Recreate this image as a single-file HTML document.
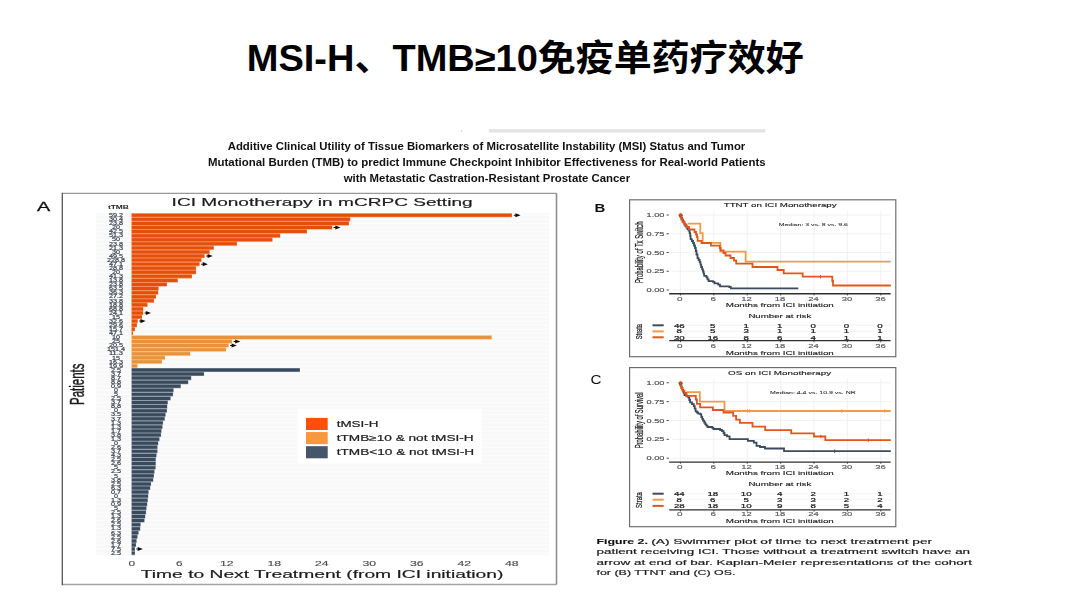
<!DOCTYPE html>
<html lang="zh"><head><meta charset="utf-8"><title>MSI-H、TMB≥10免疫单药疗效好</title>
<style>
html,body{margin:0;padding:0;background:#fff}
body{width:1080px;height:608px;position:relative;overflow:hidden;font-family:"Liberation Sans",sans-serif}
#art{position:absolute;left:0;top:0;width:1080px;height:608px}
#art text{font-family:"Liberation Sans",sans-serif}
#art text#title{font-family:"Liberation Sans","Noto Sans CJK SC",sans-serif}
h1{position:absolute;left:246px;top:36px;margin:0;font-size:36px;line-height:44px;font-weight:bold;color:transparent;white-space:nowrap;letter-spacing:0}
</style></head><body>
<h1>MSI-H、TMB≥10免疫单药疗效好</h1>
<svg id="art" width="1080" height="608" viewBox="0 0 1080 608">
<defs>
<filter id="ba" x="-2%" y="-2%" width="104%" height="104%"><feGaussianBlur stdDeviation="0.55"/></filter>
<filter id="bk" x="-2%" y="-2%" width="104%" height="104%"><feGaussianBlur stdDeviation="0.45"/></filter>
<filter id="idf" x="-2%" y="-10%" width="104%" height="120%"><feOffset dx="0" dy="0"/></filter>
</defs>
<text id="title" x="246.8" y="71.1" font-size="36" font-weight="bold" fill="#000" textLength="557" lengthAdjust="spacingAndGlyphs" style="font-family:'Liberation Sans','Noto Sans CJK SC',sans-serif">MSI-H、TMB≥10免疫单药疗效好</text>
<rect x="488.8" y="129.2" width="276.4" height="3.3" fill="#e3e3e3"/>
<rect x="461" y="130.2" width="1" height="1.6" fill="#cfcfcf"/>
<g id="subtitle" filter="url(#idf)" font-weight="bold" font-size="10.8" fill="#111" text-anchor="middle">
<text x="486.5" y="150.05" textLength="517.6" lengthAdjust="spacingAndGlyphs">Additive Clinical Utility of Tissue Biomarkers of Microsatellite Instability (MSI) Status and Tumor</text>
<text x="486.8" y="165.95" textLength="557.6" lengthAdjust="spacingAndGlyphs">Mutational Burden (TMB) to predict Immune Checkpoint Inhibitor Effectiveness for Real-world Patients</text>
<text x="486.9" y="181.75" textLength="286.4" lengthAdjust="spacingAndGlyphs">with Metastatic Castration-Resistant Prostate Cancer</text>
</g>
<g id="caption" filter="url(#idf)" font-size="7" fill="#1a1a1a" stroke="#1a1a1a" stroke-width="0.16">
<text x="596.5" y="544.1" textLength="51.4" lengthAdjust="spacingAndGlyphs" font-weight="bold" fill="#111" stroke-width="0.1">Figure 2.</text>
<text x="651.2" y="544.1" textLength="281" lengthAdjust="spacingAndGlyphs">(A) Swimmer plot of time to next treatment per</text>
<text x="596.5" y="554.35" textLength="373.6" lengthAdjust="spacingAndGlyphs">patient receiving ICI. Those without a treatment switch have an</text>
<text x="596.5" y="564.55" textLength="375.6" lengthAdjust="spacingAndGlyphs">arrow at end of bar. Kaplan-Meier representations of the cohort</text>
<text x="596.5" y="574.8" textLength="139" lengthAdjust="spacingAndGlyphs">for (B) TTNT and (C) OS.</text>
</g>
<g id="chartA" filter="url(#ba)">
<rect x="62.3" y="193.3" width="494.2" height="391.3" fill="#fff"/>
<path d="M62.3,193.3H556.5" stroke="#999" stroke-width="1.2"/><path d="M556.5,193.3V584.6" stroke="#8e8e8e" stroke-width="1.6"/><path d="M62.3,584.6H556.5" stroke="#a2a2a2" stroke-width="1.5"/><path d="M62.3,192.7V585.3" stroke="#555" stroke-width="1.3"/>
<rect x="96" y="213.3" width="453" height="341.9" fill="#f8f8f8"/>
<path d="M96,215.30H549M96,219.37H549M96,223.44H549M96,227.51H549M96,231.58H549M96,235.65H549M96,239.72H549M96,243.79H549M96,247.86H549M96,251.93H549M96,256.00H549M96,260.07H549M96,264.14H549M96,268.21H549M96,272.28H549M96,276.35H549M96,280.42H549M96,284.49H549M96,288.56H549M96,292.63H549M96,296.70H549M96,300.77H549M96,304.84H549M96,308.91H549M96,312.98H549M96,317.05H549M96,321.12H549M96,325.19H549M96,329.26H549M96,333.33H549M96,337.40H549M96,341.47H549M96,345.54H549M96,349.61H549M96,353.68H549M96,357.75H549M96,361.82H549M96,365.89H549M96,369.96H549M96,374.03H549M96,378.10H549M96,382.17H549M96,386.24H549M96,390.31H549M96,394.38H549M96,398.45H549M96,402.52H549M96,406.59H549M96,410.66H549M96,414.73H549M96,418.80H549M96,422.87H549M96,426.94H549M96,431.01H549M96,435.08H549M96,439.15H549M96,443.22H549M96,447.29H549M96,451.36H549M96,455.43H549M96,459.50H549M96,463.57H549M96,467.64H549M96,471.71H549M96,475.78H549M96,479.85H549M96,483.92H549M96,487.99H549M96,492.06H549M96,496.13H549M96,500.20H549M96,504.27H549M96,508.34H549M96,512.41H549M96,516.48H549M96,520.55H549M96,524.62H549M96,528.69H549M96,532.76H549M96,536.83H549M96,540.90H549M96,544.97H549M96,549.04H549M96,553.11H549" stroke="#fcfcfc" stroke-width="1.4" fill="none"/>
<path d="M131.5,213.27H512.0v4.07H131.5zM131.5,217.34H350.3v4.07H131.5zM131.5,221.41H349.0v4.07H131.5zM131.5,225.48H332.3v4.07H131.5zM131.5,229.55H307.0v4.07H131.5zM131.5,233.62H280.3v4.07H131.5zM131.5,237.69H272.5v4.07H131.5zM131.5,241.76H237.0v4.07H131.5zM131.5,245.83H213.8v4.07H131.5zM131.5,249.90H209.60000000000002v4.07H131.5zM131.5,253.97H204.60000000000002v4.07H131.5zM131.5,258.03H201.5v4.07H131.5zM131.5,262.10H199.60000000000002v4.07H131.5zM131.5,266.18H196.10000000000002v4.07H131.5zM131.5,270.25H196.10000000000002v4.07H131.5zM131.5,274.31H192.0v4.07H131.5zM131.5,278.38H177.8v4.07H131.5zM131.5,282.45H167.0v4.07H131.5zM131.5,286.52H158.60000000000002v4.07H131.5zM131.5,290.59H158.3v4.07H131.5zM131.5,294.67H156.10000000000002v4.07H131.5zM131.5,298.73H154.10000000000002v4.07H131.5zM131.5,302.81H147.5v4.07H131.5zM131.5,306.88H143.3v4.07H131.5zM131.5,310.94H143.3v4.07H131.5zM131.5,315.01H142.0v4.07H131.5zM131.5,319.08H137.8v4.07H131.5zM131.5,323.16H137.0v4.07H131.5zM131.5,327.22H135.0v4.07H131.5zM131.5,331.30H133.0v4.07H131.5z" fill="#F68E58"/>
<path d="M131.8,213.83H511.7v2.95H131.8zM131.8,217.90H350v2.95H131.8zM131.8,221.97H348.7v2.95H131.8zM131.8,226.04H332v2.95H131.8zM131.8,230.11H306.7v2.95H131.8zM131.8,234.18H280v2.95H131.8zM131.8,238.25H272.2v2.95H131.8zM131.8,242.32H236.7v2.95H131.8zM131.8,246.39H213.5v2.95H131.8zM131.8,250.46H209.3v2.95H131.8zM131.8,254.53H204.3v2.95H131.8zM131.8,258.59H201.2v2.95H131.8zM131.8,262.66H199.3v2.95H131.8zM131.8,266.74H195.8v2.95H131.8zM131.8,270.81H195.8v2.95H131.8zM131.8,274.88H191.7v2.95H131.8zM131.8,278.94H177.5v2.95H131.8zM131.8,283.01H166.7v2.95H131.8zM131.8,287.08H158.3v2.95H131.8zM131.8,291.15H158v2.95H131.8zM131.8,295.23H155.8v2.95H131.8zM131.8,299.29H153.8v2.95H131.8zM131.8,303.37H147.2v2.95H131.8zM131.8,307.44H143v2.95H131.8zM131.8,311.50H143v2.95H131.8zM131.8,315.57H141.7v2.95H131.8zM131.8,319.64H137.5v2.95H131.8zM131.8,323.72H136.7v2.95H131.8zM131.8,327.78H134.7v2.95H131.8zM131.8,331.86H132.7v2.95H131.8z" fill="#E5500F"/>
<path d="M131.5,335.37H491.7v4.07H131.5zM131.5,339.44H232.0v4.07H131.5zM131.5,343.50H228.60000000000002v4.07H131.5zM131.5,347.57H226.10000000000002v4.07H131.5zM131.5,351.64H190.3v4.07H131.5zM131.5,355.71H165.0v4.07H131.5zM131.5,359.79H162.0v4.07H131.5zM131.5,363.85H137.5v4.07H131.5z" fill="#F8BC78"/>
<path d="M131.8,335.93H491.4v2.95H131.8zM131.8,340.00H231.7v2.95H131.8zM131.8,344.06H228.3v2.95H131.8zM131.8,348.13H225.8v2.95H131.8zM131.8,352.20H190v2.95H131.8zM131.8,356.27H164.7v2.95H131.8zM131.8,360.35H161.7v2.95H131.8zM131.8,364.41H137.2v2.95H131.8z" fill="#E8923C"/>
<path d="M131.5,367.93H300.0v4.07H131.5zM131.5,372.00H204.10000000000002v4.07H131.5zM131.5,376.06H191.3v4.07H131.5zM131.5,380.13H188.3v4.07H131.5zM131.5,384.20H180.8v4.07H131.5zM131.5,388.28H173.60000000000002v4.07H131.5zM131.5,392.34H173.10000000000002v4.07H131.5zM131.5,396.42H170.60000000000002v4.07H131.5zM131.5,400.49H167.8v4.07H131.5zM131.5,404.56H167.3v4.07H131.5zM131.5,408.62H167.0v4.07H131.5zM131.5,412.69H165.60000000000002v4.07H131.5zM131.5,416.76H164.8v4.07H131.5zM131.5,420.83H163.10000000000002v4.07H131.5zM131.5,424.91H162.5v4.07H131.5zM131.5,428.97H161.5v4.07H131.5zM131.5,433.05H161.10000000000002v4.07H131.5zM131.5,437.12H159.5v4.07H131.5zM131.5,441.19H158.3v4.07H131.5zM131.5,445.25H157.5v4.07H131.5zM131.5,449.32H157.5v4.07H131.5zM131.5,453.40H156.5v4.07H131.5zM131.5,457.46H155.8v4.07H131.5zM131.5,461.54H155.8v4.07H131.5zM131.5,465.61H155.60000000000002v4.07H131.5zM131.5,469.68H154.5v4.07H131.5zM131.5,473.75H154.0v4.07H131.5zM131.5,477.81H153.3v4.07H131.5zM131.5,481.88H151.10000000000002v4.07H131.5zM131.5,485.95H150.3v4.07H131.5zM131.5,490.02H148.60000000000002v4.07H131.5zM131.5,494.10H148.3v4.07H131.5zM131.5,498.17H147.8v4.07H131.5zM131.5,502.24H147.3v4.07H131.5zM131.5,506.31H146.5v4.07H131.5zM131.5,510.38H146.10000000000002v4.07H131.5zM131.5,514.45H145.3v4.07H131.5zM131.5,518.51H144.5v4.07H131.5zM131.5,522.59H140.60000000000002v4.07H131.5zM131.5,526.66H140.3v4.07H131.5zM131.5,530.73H138.60000000000002v4.07H131.5zM131.5,534.80H137.5v4.07H131.5zM131.5,538.87H136.60000000000002v4.07H131.5zM131.5,542.94H136.10000000000002v4.07H131.5zM131.5,547.00H135.0v4.07H131.5zM131.5,551.08H135.0v4.07H131.5z" fill="#8E9CAB"/>
<path d="M131.8,368.49H299.7v2.95H131.8zM131.8,372.56H203.8v2.95H131.8zM131.8,376.62H191v2.95H131.8zM131.8,380.69H188v2.95H131.8zM131.8,384.76H180.5v2.95H131.8zM131.8,388.84H173.3v2.95H131.8zM131.8,392.90H172.8v2.95H131.8zM131.8,396.98H170.3v2.95H131.8zM131.8,401.05H167.5v2.95H131.8zM131.8,405.12H167v2.95H131.8zM131.8,409.19H166.7v2.95H131.8zM131.8,413.25H165.3v2.95H131.8zM131.8,417.32H164.5v2.95H131.8zM131.8,421.39H162.8v2.95H131.8zM131.8,425.47H162.2v2.95H131.8zM131.8,429.53H161.2v2.95H131.8zM131.8,433.61H160.8v2.95H131.8zM131.8,437.68H159.2v2.95H131.8zM131.8,441.75H158v2.95H131.8zM131.8,445.81H157.2v2.95H131.8zM131.8,449.88H157.2v2.95H131.8zM131.8,453.96H156.2v2.95H131.8zM131.8,458.02H155.5v2.95H131.8zM131.8,462.10H155.5v2.95H131.8zM131.8,466.17H155.3v2.95H131.8zM131.8,470.24H154.2v2.95H131.8zM131.8,474.31H153.7v2.95H131.8zM131.8,478.38H153v2.95H131.8zM131.8,482.44H150.8v2.95H131.8zM131.8,486.51H150v2.95H131.8zM131.8,490.58H148.3v2.95H131.8zM131.8,494.66H148v2.95H131.8zM131.8,498.73H147.5v2.95H131.8zM131.8,502.80H147v2.95H131.8zM131.8,506.87H146.2v2.95H131.8zM131.8,510.94H145.8v2.95H131.8zM131.8,515.00H145v2.95H131.8zM131.8,519.07H144.2v2.95H131.8zM131.8,523.15H140.3v2.95H131.8zM131.8,527.22H140v2.95H131.8zM131.8,531.28H138.3v2.95H131.8zM131.8,535.36H137.2v2.95H131.8zM131.8,539.43H136.3v2.95H131.8zM131.8,543.50H135.8v2.95H131.8zM131.8,547.56H134.7v2.95H131.8zM131.8,551.63H134.7v2.95H131.8z" fill="#3B495B"/>
<path d="M513.8,214.80H515.4V213.25L520.6,215.30L515.4,217.35V215.80H513.8zM333.6,227.01H335.3V225.46L340.5,227.51L335.3,229.56V228.01H333.6zM206.1,255.50H207.6V253.95L212.79999999999998,256.00L207.6,258.05V256.50H206.1zM201.1,263.64H202.7V262.09L207.89999999999998,264.14L202.7,266.19V264.64H201.1zM144.6,312.48H145.8V310.93L151.0,312.98L145.8,315.03V313.48H144.6zM139.2,320.62H140.4V319.07L145.6,321.12L140.4,323.17V321.62H139.2zM233.6,340.97H235.2V339.42L240.39999999999998,341.47L235.2,343.52V341.97H233.6zM230.2,345.04H231.6V343.49L236.79999999999998,345.54L231.6,347.59V346.04H230.2zM136.3,548.54H137.7V546.99L142.89999999999998,549.04L137.7,551.09V549.54H136.3z" fill="#111"/>
<g font-size="4.7" fill="#353c4c" stroke="#353c4c" stroke-width="0.15" text-anchor="middle"><text x="116" y="217.05" textLength="14.1" lengthAdjust="spacingAndGlyphs">59.2</text><text x="116" y="221.12" textLength="14.1" lengthAdjust="spacingAndGlyphs">30.4</text><text x="116" y="225.19" textLength="14.1" lengthAdjust="spacingAndGlyphs">23.8</text><text x="116" y="229.26" textLength="8.0" lengthAdjust="spacingAndGlyphs">20</text><text x="116" y="233.33" textLength="14.1" lengthAdjust="spacingAndGlyphs">42.5</text><text x="116" y="237.40" textLength="14.1" lengthAdjust="spacingAndGlyphs">51.3</text><text x="116" y="241.47" textLength="8.0" lengthAdjust="spacingAndGlyphs">50</text><text x="116" y="245.54" textLength="14.1" lengthAdjust="spacingAndGlyphs">23.8</text><text x="116" y="249.61" textLength="14.1" lengthAdjust="spacingAndGlyphs">21.3</text><text x="116" y="253.68" textLength="8.0" lengthAdjust="spacingAndGlyphs">30</text><text x="116" y="257.75" textLength="14.1" lengthAdjust="spacingAndGlyphs">49.5</text><text x="116" y="261.82" textLength="18.1" lengthAdjust="spacingAndGlyphs">228.8</text><text x="116" y="265.89" textLength="14.1" lengthAdjust="spacingAndGlyphs">47.1</text><text x="116" y="269.96" textLength="14.1" lengthAdjust="spacingAndGlyphs">28.8</text><text x="116" y="274.03" textLength="8.0" lengthAdjust="spacingAndGlyphs">20</text><text x="116" y="278.10" textLength="14.1" lengthAdjust="spacingAndGlyphs">41.3</text><text x="116" y="282.17" textLength="14.1" lengthAdjust="spacingAndGlyphs">13.8</text><text x="116" y="286.24" textLength="14.1" lengthAdjust="spacingAndGlyphs">23.8</text><text x="116" y="290.31" textLength="14.1" lengthAdjust="spacingAndGlyphs">63.5</text><text x="116" y="294.38" textLength="14.1" lengthAdjust="spacingAndGlyphs">36.3</text><text x="116" y="298.45" textLength="14.1" lengthAdjust="spacingAndGlyphs">27.2</text><text x="116" y="302.52" textLength="14.1" lengthAdjust="spacingAndGlyphs">33.8</text><text x="116" y="306.59" textLength="14.1" lengthAdjust="spacingAndGlyphs">18.8</text><text x="116" y="310.66" textLength="14.1" lengthAdjust="spacingAndGlyphs">68.8</text><text x="116" y="314.73" textLength="14.1" lengthAdjust="spacingAndGlyphs">24.1</text><text x="116" y="318.80" textLength="8.0" lengthAdjust="spacingAndGlyphs">15</text><text x="116" y="322.87" textLength="14.1" lengthAdjust="spacingAndGlyphs">32.6</text><text x="116" y="326.94" textLength="14.1" lengthAdjust="spacingAndGlyphs">29.6</text><text x="116" y="331.01" textLength="14.1" lengthAdjust="spacingAndGlyphs">15.7</text><text x="116" y="335.08" textLength="14.1" lengthAdjust="spacingAndGlyphs">47.1</text><text x="116" y="339.15" textLength="8.0" lengthAdjust="spacingAndGlyphs">10</text><text x="116" y="343.22" textLength="8.0" lengthAdjust="spacingAndGlyphs">25</text><text x="116" y="347.29" textLength="14.1" lengthAdjust="spacingAndGlyphs">20.5</text><text x="116" y="351.36" textLength="18.1" lengthAdjust="spacingAndGlyphs">151.4</text><text x="116" y="355.43" textLength="14.1" lengthAdjust="spacingAndGlyphs">11.3</text><text x="116" y="359.50" textLength="8.0" lengthAdjust="spacingAndGlyphs">15</text><text x="116" y="363.57" textLength="14.1" lengthAdjust="spacingAndGlyphs">16.3</text><text x="116" y="367.64" textLength="14.1" lengthAdjust="spacingAndGlyphs">19.9</text><text x="116" y="371.71" textLength="10.1" lengthAdjust="spacingAndGlyphs">2.5</text><text x="116" y="375.78" textLength="10.1" lengthAdjust="spacingAndGlyphs">3.7</text><text x="116" y="379.85" textLength="10.1" lengthAdjust="spacingAndGlyphs">8.7</text><text x="116" y="383.92" textLength="10.1" lengthAdjust="spacingAndGlyphs">8.8</text><text x="116" y="387.99" textLength="10.1" lengthAdjust="spacingAndGlyphs">0.9</text><text x="116" y="392.06" textLength="4.0" lengthAdjust="spacingAndGlyphs">0</text><text x="116" y="396.13" textLength="4.0" lengthAdjust="spacingAndGlyphs">5</text><text x="116" y="400.20" textLength="10.1" lengthAdjust="spacingAndGlyphs">2.5</text><text x="116" y="404.27" textLength="10.1" lengthAdjust="spacingAndGlyphs">3.7</text><text x="116" y="408.34" textLength="10.1" lengthAdjust="spacingAndGlyphs">8.8</text><text x="116" y="412.41" textLength="4.0" lengthAdjust="spacingAndGlyphs">0</text><text x="116" y="416.48" textLength="10.1" lengthAdjust="spacingAndGlyphs">3.5</text><text x="116" y="420.55" textLength="10.1" lengthAdjust="spacingAndGlyphs">3.7</text><text x="116" y="424.62" textLength="10.1" lengthAdjust="spacingAndGlyphs">1.3</text><text x="116" y="428.69" textLength="10.1" lengthAdjust="spacingAndGlyphs">1.3</text><text x="116" y="432.76" textLength="10.1" lengthAdjust="spacingAndGlyphs">1.7</text><text x="116" y="436.83" textLength="10.1" lengthAdjust="spacingAndGlyphs">3.8</text><text x="116" y="440.90" textLength="10.1" lengthAdjust="spacingAndGlyphs">1.3</text><text x="116" y="444.97" textLength="4.0" lengthAdjust="spacingAndGlyphs">0</text><text x="116" y="449.04" textLength="10.1" lengthAdjust="spacingAndGlyphs">2.6</text><text x="116" y="453.11" textLength="10.1" lengthAdjust="spacingAndGlyphs">3.7</text><text x="116" y="457.18" textLength="10.1" lengthAdjust="spacingAndGlyphs">4.3</text><text x="116" y="461.25" textLength="10.1" lengthAdjust="spacingAndGlyphs">2.5</text><text x="116" y="465.32" textLength="10.1" lengthAdjust="spacingAndGlyphs">2.6</text><text x="116" y="469.39" textLength="4.0" lengthAdjust="spacingAndGlyphs">5</text><text x="116" y="473.46" textLength="10.1" lengthAdjust="spacingAndGlyphs">2.5</text><text x="116" y="477.53" textLength="4.0" lengthAdjust="spacingAndGlyphs">5</text><text x="116" y="481.60" textLength="10.1" lengthAdjust="spacingAndGlyphs">3.8</text><text x="116" y="485.67" textLength="10.1" lengthAdjust="spacingAndGlyphs">2.5</text><text x="116" y="489.74" textLength="10.1" lengthAdjust="spacingAndGlyphs">6.3</text><text x="116" y="493.81" textLength="10.1" lengthAdjust="spacingAndGlyphs">0.7</text><text x="116" y="497.88" textLength="4.0" lengthAdjust="spacingAndGlyphs">0</text><text x="116" y="501.95" textLength="10.1" lengthAdjust="spacingAndGlyphs">1.3</text><text x="116" y="506.02" textLength="10.1" lengthAdjust="spacingAndGlyphs">0.9</text><text x="116" y="510.09" textLength="4.0" lengthAdjust="spacingAndGlyphs">5</text><text x="116" y="514.16" textLength="10.1" lengthAdjust="spacingAndGlyphs">2.5</text><text x="116" y="518.23" textLength="10.1" lengthAdjust="spacingAndGlyphs">1.3</text><text x="116" y="522.30" textLength="10.1" lengthAdjust="spacingAndGlyphs">2.6</text><text x="116" y="526.37" textLength="10.1" lengthAdjust="spacingAndGlyphs">2.5</text><text x="116" y="530.44" textLength="10.1" lengthAdjust="spacingAndGlyphs">1.3</text><text x="116" y="534.51" textLength="10.1" lengthAdjust="spacingAndGlyphs">6.3</text><text x="116" y="538.58" textLength="10.1" lengthAdjust="spacingAndGlyphs">2.5</text><text x="116" y="542.65" textLength="10.1" lengthAdjust="spacingAndGlyphs">2.6</text><text x="116" y="546.72" textLength="10.1" lengthAdjust="spacingAndGlyphs">1.7</text><text x="116" y="550.79" textLength="10.1" lengthAdjust="spacingAndGlyphs">7.5</text><text x="116" y="554.86" textLength="10.1" lengthAdjust="spacingAndGlyphs">2.5</text></g>
<text x="107.9" y="209" font-size="5.8" fill="#222" textLength="21.1" lengthAdjust="spacingAndGlyphs" font-weight="bold">tTMB</text>
<text x="171.6" y="206.3" font-size="11.6" fill="#1c1c1c" stroke="#1c1c1c" stroke-width="0.18" textLength="301" lengthAdjust="spacingAndGlyphs">ICI Monotherapy in mCRPC Setting</text>
<text x="36.9" y="211.2" font-size="12.6" fill="#111" stroke="#111" stroke-width="0.3" textLength="13.2" lengthAdjust="spacingAndGlyphs">A</text>
<text x="131.8" y="565.9" font-size="8" fill="#505050" stroke="#505050" stroke-width="0.15" textLength="6.6" lengthAdjust="spacingAndGlyphs" text-anchor="middle">0</text>
<text x="179.3" y="565.9" font-size="8" fill="#505050" stroke="#505050" stroke-width="0.15" textLength="6.6" lengthAdjust="spacingAndGlyphs" text-anchor="middle">6</text>
<text x="226.8" y="565.9" font-size="8" fill="#505050" stroke="#505050" stroke-width="0.15" textLength="13.6" lengthAdjust="spacingAndGlyphs" text-anchor="middle">12</text>
<text x="274.3" y="565.9" font-size="8" fill="#505050" stroke="#505050" stroke-width="0.15" textLength="13.6" lengthAdjust="spacingAndGlyphs" text-anchor="middle">18</text>
<text x="321.8" y="565.9" font-size="8" fill="#505050" stroke="#505050" stroke-width="0.15" textLength="13.6" lengthAdjust="spacingAndGlyphs" text-anchor="middle">24</text>
<text x="369.3" y="565.9" font-size="8" fill="#505050" stroke="#505050" stroke-width="0.15" textLength="13.6" lengthAdjust="spacingAndGlyphs" text-anchor="middle">30</text>
<text x="416.8" y="565.9" font-size="8" fill="#505050" stroke="#505050" stroke-width="0.15" textLength="13.6" lengthAdjust="spacingAndGlyphs" text-anchor="middle">36</text>
<text x="464.3" y="565.9" font-size="8" fill="#505050" stroke="#505050" stroke-width="0.15" textLength="13.6" lengthAdjust="spacingAndGlyphs" text-anchor="middle">42</text>
<text x="511.8" y="565.9" font-size="8" fill="#505050" stroke="#505050" stroke-width="0.15" textLength="13.6" lengthAdjust="spacingAndGlyphs" text-anchor="middle">48</text>
<text x="140.8" y="577.8" font-size="11.6" fill="#1c1c1c" stroke="#1c1c1c" stroke-width="0.18" textLength="362.5" lengthAdjust="spacingAndGlyphs">Time to Next Treatment (from ICI initiation)</text>
<text transform="translate(84.2,405) scale(1.75,1) rotate(-90)" font-size="11.5" fill="#1c1c1c" stroke="#1c1c1c" stroke-width="0.25">Patients</text>
<rect x="297.8" y="408.8" width="183.7" height="54.4" fill="#fff"/>
<rect x="306" y="417.90" width="21.7" height="12.1" fill="#FF4F07"/>
<rect x="306" y="432.05" width="21.7" height="12.1" fill="#F9973E"/>
<rect x="306" y="446.20" width="21.7" height="12.1" fill="#45546A"/>
<text x="336.7" y="427.2" font-size="8.7" fill="#222" stroke="#222" stroke-width="0.2" textLength="41.8" lengthAdjust="spacingAndGlyphs">tMSI-H</text>
<text x="336.7" y="441.2" font-size="8.7" fill="#222" stroke="#222" stroke-width="0.2" textLength="137" lengthAdjust="spacingAndGlyphs">tTMB≥10 &amp; not tMSI-H</text>
<text x="336.7" y="455.1" font-size="8.7" fill="#222" stroke="#222" stroke-width="0.2" textLength="137.5" lengthAdjust="spacingAndGlyphs">tTMB&lt;10 &amp; not tMSI-H</text>
</g>
<g id="chartB" filter="url(#bk)">
<rect x="629.6" y="199.8" width="266.2" height="156.9" fill="#fff" stroke="#6a6a6a" stroke-width="1.15"/>
<path d="M680.4,211.0V293.3M713.8,211.0V293.3M747.2,211.0V293.3M780.6,211.0V293.3M814.0,211.0V293.3M847.4,211.0V293.3M880.8,211.0V293.3M672,215.00H890.8M672,233.75H890.8M672,252.50H890.8M672,271.25H890.8M672,290.00H890.8" stroke="#efefef" stroke-width="0.9" fill="none"/>
<path d="M672,325.3H890.8M672,331.4H890.8M672,337.3H890.8" stroke="#efefef" stroke-width="0.7" fill="none"/>
<text x="664.4" y="217.15" font-size="6" fill="#4d4d4d" stroke="#4d4d4d" stroke-width="0.15" textLength="17.8" lengthAdjust="spacingAndGlyphs" text-anchor="end">1.00</text>
<path d="M666.6,215.00h2.2" stroke="#333" stroke-width="0.9"/>
<text x="664.4" y="235.90" font-size="6" fill="#4d4d4d" stroke="#4d4d4d" stroke-width="0.15" textLength="17.8" lengthAdjust="spacingAndGlyphs" text-anchor="end">0.75</text>
<path d="M666.6,233.75h2.2" stroke="#333" stroke-width="0.9"/>
<text x="664.4" y="254.65" font-size="6" fill="#4d4d4d" stroke="#4d4d4d" stroke-width="0.15" textLength="17.8" lengthAdjust="spacingAndGlyphs" text-anchor="end">0.50</text>
<path d="M666.6,252.50h2.2" stroke="#333" stroke-width="0.9"/>
<text x="664.4" y="273.40" font-size="6" fill="#4d4d4d" stroke="#4d4d4d" stroke-width="0.15" textLength="17.8" lengthAdjust="spacingAndGlyphs" text-anchor="end">0.25</text>
<path d="M666.6,271.25h2.2" stroke="#333" stroke-width="0.9"/>
<text x="664.4" y="292.15" font-size="6" fill="#4d4d4d" stroke="#4d4d4d" stroke-width="0.15" textLength="17.8" lengthAdjust="spacingAndGlyphs" text-anchor="end">0.00</text>
<path d="M666.6,290.00h2.2" stroke="#333" stroke-width="0.9"/>
<path d="M680.5,214.6V216.2H681.2V217.8H682V219.4H682.8V221H683.6V222.6H684.4V224.3H685.3V225.9H686.5V227.5H687.6V229.1H688.6V230.7H689.6V233.2H690.2V236H690.6V239.2H691.8V241H693V243H694V245.5H695V248H695.8V251H696.5V254.5H697.5V258.1H698.6V260H699.7V262.2H700.5V264.6H701.2V267H702.1V269.3H703V271.5H703.6V273.7H704.2V275.9H706.4V277.4H707.5V279.3H708.6V281.1H713V281.9H714.5V283.3H718.2V284.7H720V286.3H729.3V287H730.8V288.4H798.3" stroke="#3D4B5E" stroke-width="1.8" fill="none" stroke-linejoin="miter"/>
<path d="M688,223.7H700.3V233.2H702.7V242.9H720.4V251.7H745.6V261.7H890.8" stroke="#F09A4B" stroke-width="1.8" fill="none" stroke-linejoin="miter"/>
<path d="M680.5,214.6V217H681.3V219.5H682.5V222H684.5V224.5H686.5V227H689V229.5H694.5V232H696V234.5H697V237H697.6V240.8H701.5V243H711V245.6H719.8V248H720.6V250.3H723.5V253H725.5V255.5H730.5V258H734V260.5H736.2V263.7H752.5V267H777.5V270H783.7V273.3H802.7V276.7H832.3V281H833V285.5H890.8" stroke="#E2561B" stroke-width="1.8" fill="none" stroke-linejoin="miter"/>
<path d="M820.5,275.0v3.4" stroke="#E2561B" stroke-width="1"/>
<path d="M669.2,293.8H890.6" stroke="#2e2e2e" stroke-width="1.4"/>
<text x="679.7" y="300.7" font-size="5.8" fill="#5c5c5c" stroke="#5c5c5c" stroke-width="0.15" textLength="5.5" lengthAdjust="spacingAndGlyphs" text-anchor="middle">0</text>
<path d="M680.4,293.8v1.6" stroke="#2e2e2e" stroke-width="0.9"/>
<text x="713.2" y="300.7" font-size="5.8" fill="#5c5c5c" stroke="#5c5c5c" stroke-width="0.15" textLength="5.5" lengthAdjust="spacingAndGlyphs" text-anchor="middle">6</text>
<path d="M713.8,293.8v1.6" stroke="#2e2e2e" stroke-width="0.9"/>
<text x="746.6" y="300.7" font-size="5.8" fill="#5c5c5c" stroke="#5c5c5c" stroke-width="0.15" textLength="10.5" lengthAdjust="spacingAndGlyphs" text-anchor="middle">12</text>
<path d="M747.2,293.8v1.6" stroke="#2e2e2e" stroke-width="0.9"/>
<text x="780.1" y="300.7" font-size="5.8" fill="#5c5c5c" stroke="#5c5c5c" stroke-width="0.15" textLength="10.5" lengthAdjust="spacingAndGlyphs" text-anchor="middle">18</text>
<path d="M780.6,293.8v1.6" stroke="#2e2e2e" stroke-width="0.9"/>
<text x="813.5" y="300.7" font-size="5.8" fill="#5c5c5c" stroke="#5c5c5c" stroke-width="0.15" textLength="10.5" lengthAdjust="spacingAndGlyphs" text-anchor="middle">24</text>
<path d="M814.0,293.8v1.6" stroke="#2e2e2e" stroke-width="0.9"/>
<text x="847.0" y="300.7" font-size="5.8" fill="#5c5c5c" stroke="#5c5c5c" stroke-width="0.15" textLength="10.5" lengthAdjust="spacingAndGlyphs" text-anchor="middle">30</text>
<path d="M847.4,293.8v1.6" stroke="#2e2e2e" stroke-width="0.9"/>
<text x="880.4" y="300.7" font-size="5.8" fill="#5c5c5c" stroke="#5c5c5c" stroke-width="0.15" textLength="10.5" lengthAdjust="spacingAndGlyphs" text-anchor="middle">36</text>
<path d="M880.8,293.8v1.6" stroke="#2e2e2e" stroke-width="0.9"/>
<text x="725.8" y="307.0" font-size="5.8" fill="#1a1a1a" stroke="#1a1a1a" stroke-width="0.12" textLength="108" lengthAdjust="spacingAndGlyphs">Months from ICI initiation</text>
<text x="748.4" y="317.8" font-size="5.6" fill="#1a1a1a" stroke="#1a1a1a" stroke-width="0.12" textLength="62.9" lengthAdjust="spacingAndGlyphs">Number at risk</text>
<path d="M652.5,325.3H663.7" stroke="#3D4B5E" stroke-width="2"/>
<text x="679.3" y="327.5" font-size="5.9" fill="#1a1a1a" stroke="#1a1a1a" stroke-width="0.2" textLength="10.8" lengthAdjust="spacingAndGlyphs" text-anchor="middle">46</text>
<text x="712.8" y="327.5" font-size="5.9" fill="#1a1a1a" stroke="#1a1a1a" stroke-width="0.2" textLength="5.4" lengthAdjust="spacingAndGlyphs" text-anchor="middle">5</text>
<text x="746.2" y="327.5" font-size="5.9" fill="#1a1a1a" stroke="#1a1a1a" stroke-width="0.2" textLength="5.4" lengthAdjust="spacingAndGlyphs" text-anchor="middle">1</text>
<text x="779.6" y="327.5" font-size="5.9" fill="#1a1a1a" stroke="#1a1a1a" stroke-width="0.2" textLength="5.4" lengthAdjust="spacingAndGlyphs" text-anchor="middle">1</text>
<text x="813.1" y="327.5" font-size="5.9" fill="#1a1a1a" stroke="#1a1a1a" stroke-width="0.2" textLength="5.4" lengthAdjust="spacingAndGlyphs" text-anchor="middle">0</text>
<text x="846.5" y="327.5" font-size="5.9" fill="#1a1a1a" stroke="#1a1a1a" stroke-width="0.2" textLength="5.4" lengthAdjust="spacingAndGlyphs" text-anchor="middle">0</text>
<text x="880.0" y="327.5" font-size="5.9" fill="#1a1a1a" stroke="#1a1a1a" stroke-width="0.2" textLength="5.4" lengthAdjust="spacingAndGlyphs" text-anchor="middle">0</text>
<path d="M652.5,331.4H663.7" stroke="#F09A4B" stroke-width="2"/>
<text x="679.3" y="333.4" font-size="5.9" fill="#1a1a1a" stroke="#1a1a1a" stroke-width="0.2" textLength="5.4" lengthAdjust="spacingAndGlyphs" text-anchor="middle">8</text>
<text x="712.8" y="333.4" font-size="5.9" fill="#1a1a1a" stroke="#1a1a1a" stroke-width="0.2" textLength="5.4" lengthAdjust="spacingAndGlyphs" text-anchor="middle">5</text>
<text x="746.2" y="333.4" font-size="5.9" fill="#1a1a1a" stroke="#1a1a1a" stroke-width="0.2" textLength="5.4" lengthAdjust="spacingAndGlyphs" text-anchor="middle">3</text>
<text x="779.6" y="333.4" font-size="5.9" fill="#1a1a1a" stroke="#1a1a1a" stroke-width="0.2" textLength="5.4" lengthAdjust="spacingAndGlyphs" text-anchor="middle">1</text>
<text x="813.1" y="333.4" font-size="5.9" fill="#1a1a1a" stroke="#1a1a1a" stroke-width="0.2" textLength="5.4" lengthAdjust="spacingAndGlyphs" text-anchor="middle">1</text>
<text x="846.5" y="333.4" font-size="5.9" fill="#1a1a1a" stroke="#1a1a1a" stroke-width="0.2" textLength="5.4" lengthAdjust="spacingAndGlyphs" text-anchor="middle">1</text>
<text x="880.0" y="333.4" font-size="5.9" fill="#1a1a1a" stroke="#1a1a1a" stroke-width="0.2" textLength="5.4" lengthAdjust="spacingAndGlyphs" text-anchor="middle">1</text>
<path d="M652.5,337.3H663.7" stroke="#E2561B" stroke-width="2"/>
<text x="679.3" y="339.5" font-size="5.9" fill="#1a1a1a" stroke="#1a1a1a" stroke-width="0.2" textLength="10.8" lengthAdjust="spacingAndGlyphs" text-anchor="middle">30</text>
<text x="712.8" y="339.5" font-size="5.9" fill="#1a1a1a" stroke="#1a1a1a" stroke-width="0.2" textLength="10.8" lengthAdjust="spacingAndGlyphs" text-anchor="middle">16</text>
<text x="746.2" y="339.5" font-size="5.9" fill="#1a1a1a" stroke="#1a1a1a" stroke-width="0.2" textLength="5.4" lengthAdjust="spacingAndGlyphs" text-anchor="middle">8</text>
<text x="779.6" y="339.5" font-size="5.9" fill="#1a1a1a" stroke="#1a1a1a" stroke-width="0.2" textLength="5.4" lengthAdjust="spacingAndGlyphs" text-anchor="middle">6</text>
<text x="813.1" y="339.5" font-size="5.9" fill="#1a1a1a" stroke="#1a1a1a" stroke-width="0.2" textLength="5.4" lengthAdjust="spacingAndGlyphs" text-anchor="middle">4</text>
<text x="846.5" y="339.5" font-size="5.9" fill="#1a1a1a" stroke="#1a1a1a" stroke-width="0.2" textLength="5.4" lengthAdjust="spacingAndGlyphs" text-anchor="middle">1</text>
<text x="880.0" y="339.5" font-size="5.9" fill="#1a1a1a" stroke="#1a1a1a" stroke-width="0.2" textLength="5.4" lengthAdjust="spacingAndGlyphs" text-anchor="middle">1</text>
<path d="M669.2,340.6H890.6" stroke="#2e2e2e" stroke-width="1.4"/>
<text x="679.7" y="347.9" font-size="5.8" fill="#5c5c5c" stroke="#5c5c5c" stroke-width="0.15" textLength="5.5" lengthAdjust="spacingAndGlyphs" text-anchor="middle">0</text>
<path d="M680.4,340.6v1.6" stroke="#2e2e2e" stroke-width="0.9"/>
<text x="713.2" y="347.9" font-size="5.8" fill="#5c5c5c" stroke="#5c5c5c" stroke-width="0.15" textLength="5.5" lengthAdjust="spacingAndGlyphs" text-anchor="middle">6</text>
<path d="M713.8,340.6v1.6" stroke="#2e2e2e" stroke-width="0.9"/>
<text x="746.6" y="347.9" font-size="5.8" fill="#5c5c5c" stroke="#5c5c5c" stroke-width="0.15" textLength="10.5" lengthAdjust="spacingAndGlyphs" text-anchor="middle">12</text>
<path d="M747.2,340.6v1.6" stroke="#2e2e2e" stroke-width="0.9"/>
<text x="780.1" y="347.9" font-size="5.8" fill="#5c5c5c" stroke="#5c5c5c" stroke-width="0.15" textLength="10.5" lengthAdjust="spacingAndGlyphs" text-anchor="middle">18</text>
<path d="M780.6,340.6v1.6" stroke="#2e2e2e" stroke-width="0.9"/>
<text x="813.5" y="347.9" font-size="5.8" fill="#5c5c5c" stroke="#5c5c5c" stroke-width="0.15" textLength="10.5" lengthAdjust="spacingAndGlyphs" text-anchor="middle">24</text>
<path d="M814.0,340.6v1.6" stroke="#2e2e2e" stroke-width="0.9"/>
<text x="847.0" y="347.9" font-size="5.8" fill="#5c5c5c" stroke="#5c5c5c" stroke-width="0.15" textLength="10.5" lengthAdjust="spacingAndGlyphs" text-anchor="middle">30</text>
<path d="M847.4,340.6v1.6" stroke="#2e2e2e" stroke-width="0.9"/>
<text x="880.4" y="347.9" font-size="5.8" fill="#5c5c5c" stroke="#5c5c5c" stroke-width="0.15" textLength="10.5" lengthAdjust="spacingAndGlyphs" text-anchor="middle">36</text>
<path d="M880.8,340.6v1.6" stroke="#2e2e2e" stroke-width="0.9"/>
<text x="725.8" y="354.6" font-size="5.8" fill="#1a1a1a" stroke="#1a1a1a" stroke-width="0.12" textLength="108" lengthAdjust="spacingAndGlyphs">Months from ICI initiation</text>
<text x="723.7" y="206.7" font-size="5.7" fill="#1a1a1a" stroke="#1a1a1a" stroke-width="0.12" textLength="113.0" lengthAdjust="spacingAndGlyphs">TTNT on ICI Monotherapy</text>
<text x="778.7" y="225.5" font-size="4.4" fill="#2a2a2a" stroke="#2a2a2a" stroke-width="0.06" textLength="69.3" lengthAdjust="spacingAndGlyphs">Median: 3 vs. 8 vs. 9.6</text>
<text transform="translate(642.5,282.9) rotate(-90)" font-size="10" textLength="61.5" lengthAdjust="spacingAndGlyphs" fill="#1a1a1a" stroke="#1a1a1a" stroke-width="0.25">Probability of Tx Switch</text>
<text transform="translate(641.5,339.2) rotate(-90)" font-size="9.8" textLength="15.2" lengthAdjust="spacingAndGlyphs" fill="#1a1a1a" stroke="#1a1a1a" stroke-width="0.25">Strata</text>
<text x="594.5" y="212.1" font-size="11.4" font-weight="bold" fill="#111" textLength="10.8" lengthAdjust="spacingAndGlyphs">B</text><circle cx="680.7" cy="215.3" r="2.1" fill="#b4531f"/>
</g>
<g id="chartC" filter="url(#bk)">
<rect x="629.6" y="367.6" width="266.2" height="159.1" fill="#fff" stroke="#6a6a6a" stroke-width="1.15"/>
<path d="M680.4,378.8V461.6M713.8,378.8V461.6M747.2,378.8V461.6M780.6,378.8V461.6M814.0,378.8V461.6M847.4,378.8V461.6M880.8,378.8V461.6M672,382.75H890.8M672,401.61H890.8M672,420.48H890.8M672,439.34H890.8M672,458.20H890.8" stroke="#efefef" stroke-width="0.9" fill="none"/>
<path d="M672,493.7H890.8M672,499.7H890.8M672,505.9H890.8" stroke="#efefef" stroke-width="0.7" fill="none"/>
<text x="664.4" y="384.90" font-size="6" fill="#4d4d4d" stroke="#4d4d4d" stroke-width="0.15" textLength="17.8" lengthAdjust="spacingAndGlyphs" text-anchor="end">1.00</text>
<path d="M666.6,382.75h2.2" stroke="#333" stroke-width="0.9"/>
<text x="664.4" y="403.76" font-size="6" fill="#4d4d4d" stroke="#4d4d4d" stroke-width="0.15" textLength="17.8" lengthAdjust="spacingAndGlyphs" text-anchor="end">0.75</text>
<path d="M666.6,401.61h2.2" stroke="#333" stroke-width="0.9"/>
<text x="664.4" y="422.62" font-size="6" fill="#4d4d4d" stroke="#4d4d4d" stroke-width="0.15" textLength="17.8" lengthAdjust="spacingAndGlyphs" text-anchor="end">0.50</text>
<path d="M666.6,420.48h2.2" stroke="#333" stroke-width="0.9"/>
<text x="664.4" y="441.49" font-size="6" fill="#4d4d4d" stroke="#4d4d4d" stroke-width="0.15" textLength="17.8" lengthAdjust="spacingAndGlyphs" text-anchor="end">0.25</text>
<path d="M666.6,439.34h2.2" stroke="#333" stroke-width="0.9"/>
<text x="664.4" y="460.35" font-size="6" fill="#4d4d4d" stroke="#4d4d4d" stroke-width="0.15" textLength="17.8" lengthAdjust="spacingAndGlyphs" text-anchor="end">0.00</text>
<path d="M666.6,458.20h2.2" stroke="#333" stroke-width="0.9"/>
<path d="M680.4,382.8V384.5H681V386.3H681.7V388H682.4V389.8H683.1V391.5H683.8V393.2H684.5V395H686.5V396.3H688.4V397.6H689.3V400H690.1V402.4H692V404.2H693.8V406.1H694.7V408.7H695.6V411.3H697V412.5H698.2V413.6H700.4V414.4H701.3V417H702.2V418.8H703V420.7H704.2V422.5H705.3V424.4H706.4V425.7H707.5V427H712.3V427.8H713.4V429H720.1V430H722V431.1H723.6V433H724.5V435.1H727V436.3H729.6V439.2H747.9V440.9H753.8V442.7H756.5V445.8H760V447H765V448.5H784V451.2H890.8" stroke="#3D4B5E" stroke-width="1.8" fill="none" stroke-linejoin="miter"/>
<path d="M686.5,392.2H699.9V401.6H724.5V411H890.8" stroke="#F09A4B" stroke-width="1.8" fill="none" stroke-linejoin="miter"/>
<path d="M680.4,382.8V385.5H681.3V388H682.5V390.6H684.5V393H686.5V395.9H695.8V399.5H696.9V403.9H700.1V407.4H712.9V410H723.5V412.5H733.2V415.8H736.1V419.6H739.9V422.9H752.5V426.7H765.2V430.1H791.2V433.3H814V436.5H825.3V440.2H890.8" stroke="#E2561B" stroke-width="1.8" fill="none" stroke-linejoin="miter"/>
<path d="M747.5,409.3v3.4" stroke="#F09A4B" stroke-width="1"/>
<path d="M749.6,409.3v3.4" stroke="#F09A4B" stroke-width="1"/>
<path d="M841.7,409.3v3.4" stroke="#F09A4B" stroke-width="1"/>
<path d="M884.7,409.3v3.4" stroke="#F09A4B" stroke-width="1"/>
<path d="M820.8,434.8v3.4" stroke="#E2561B" stroke-width="1"/>
<path d="M868.3,438.5v3.4" stroke="#E2561B" stroke-width="1"/>
<path d="M834.7,449.5v3.4" stroke="#3D4B5E" stroke-width="1"/>
<path d="M669.2,462.1H890.6" stroke="#2e2e2e" stroke-width="1.4"/>
<text x="679.7" y="468.8" font-size="5.8" fill="#5c5c5c" stroke="#5c5c5c" stroke-width="0.15" textLength="5.5" lengthAdjust="spacingAndGlyphs" text-anchor="middle">0</text>
<path d="M680.4,462.1v1.6" stroke="#2e2e2e" stroke-width="0.9"/>
<text x="713.2" y="468.8" font-size="5.8" fill="#5c5c5c" stroke="#5c5c5c" stroke-width="0.15" textLength="5.5" lengthAdjust="spacingAndGlyphs" text-anchor="middle">6</text>
<path d="M713.8,462.1v1.6" stroke="#2e2e2e" stroke-width="0.9"/>
<text x="746.6" y="468.8" font-size="5.8" fill="#5c5c5c" stroke="#5c5c5c" stroke-width="0.15" textLength="10.5" lengthAdjust="spacingAndGlyphs" text-anchor="middle">12</text>
<path d="M747.2,462.1v1.6" stroke="#2e2e2e" stroke-width="0.9"/>
<text x="780.1" y="468.8" font-size="5.8" fill="#5c5c5c" stroke="#5c5c5c" stroke-width="0.15" textLength="10.5" lengthAdjust="spacingAndGlyphs" text-anchor="middle">18</text>
<path d="M780.6,462.1v1.6" stroke="#2e2e2e" stroke-width="0.9"/>
<text x="813.5" y="468.8" font-size="5.8" fill="#5c5c5c" stroke="#5c5c5c" stroke-width="0.15" textLength="10.5" lengthAdjust="spacingAndGlyphs" text-anchor="middle">24</text>
<path d="M814.0,462.1v1.6" stroke="#2e2e2e" stroke-width="0.9"/>
<text x="847.0" y="468.8" font-size="5.8" fill="#5c5c5c" stroke="#5c5c5c" stroke-width="0.15" textLength="10.5" lengthAdjust="spacingAndGlyphs" text-anchor="middle">30</text>
<path d="M847.4,462.1v1.6" stroke="#2e2e2e" stroke-width="0.9"/>
<text x="880.4" y="468.8" font-size="5.8" fill="#5c5c5c" stroke="#5c5c5c" stroke-width="0.15" textLength="10.5" lengthAdjust="spacingAndGlyphs" text-anchor="middle">36</text>
<path d="M880.8,462.1v1.6" stroke="#2e2e2e" stroke-width="0.9"/>
<text x="725.8" y="475.3" font-size="5.8" fill="#1a1a1a" stroke="#1a1a1a" stroke-width="0.12" textLength="108" lengthAdjust="spacingAndGlyphs">Months from ICI initiation</text>
<text x="748.4" y="486.3" font-size="5.6" fill="#1a1a1a" stroke="#1a1a1a" stroke-width="0.12" textLength="62.9" lengthAdjust="spacingAndGlyphs">Number at risk</text>
<path d="M652.5,493.7H663.7" stroke="#3D4B5E" stroke-width="2"/>
<text x="679.3" y="495.8" font-size="5.9" fill="#1a1a1a" stroke="#1a1a1a" stroke-width="0.2" textLength="10.8" lengthAdjust="spacingAndGlyphs" text-anchor="middle">44</text>
<text x="712.8" y="495.8" font-size="5.9" fill="#1a1a1a" stroke="#1a1a1a" stroke-width="0.2" textLength="10.8" lengthAdjust="spacingAndGlyphs" text-anchor="middle">18</text>
<text x="746.2" y="495.8" font-size="5.9" fill="#1a1a1a" stroke="#1a1a1a" stroke-width="0.2" textLength="10.8" lengthAdjust="spacingAndGlyphs" text-anchor="middle">10</text>
<text x="779.6" y="495.8" font-size="5.9" fill="#1a1a1a" stroke="#1a1a1a" stroke-width="0.2" textLength="5.4" lengthAdjust="spacingAndGlyphs" text-anchor="middle">4</text>
<text x="813.1" y="495.8" font-size="5.9" fill="#1a1a1a" stroke="#1a1a1a" stroke-width="0.2" textLength="5.4" lengthAdjust="spacingAndGlyphs" text-anchor="middle">2</text>
<text x="846.5" y="495.8" font-size="5.9" fill="#1a1a1a" stroke="#1a1a1a" stroke-width="0.2" textLength="5.4" lengthAdjust="spacingAndGlyphs" text-anchor="middle">1</text>
<text x="880.0" y="495.8" font-size="5.9" fill="#1a1a1a" stroke="#1a1a1a" stroke-width="0.2" textLength="5.4" lengthAdjust="spacingAndGlyphs" text-anchor="middle">1</text>
<path d="M652.5,499.7H663.7" stroke="#F09A4B" stroke-width="2"/>
<text x="679.3" y="501.8" font-size="5.9" fill="#1a1a1a" stroke="#1a1a1a" stroke-width="0.2" textLength="5.4" lengthAdjust="spacingAndGlyphs" text-anchor="middle">8</text>
<text x="712.8" y="501.8" font-size="5.9" fill="#1a1a1a" stroke="#1a1a1a" stroke-width="0.2" textLength="5.4" lengthAdjust="spacingAndGlyphs" text-anchor="middle">6</text>
<text x="746.2" y="501.8" font-size="5.9" fill="#1a1a1a" stroke="#1a1a1a" stroke-width="0.2" textLength="5.4" lengthAdjust="spacingAndGlyphs" text-anchor="middle">5</text>
<text x="779.6" y="501.8" font-size="5.9" fill="#1a1a1a" stroke="#1a1a1a" stroke-width="0.2" textLength="5.4" lengthAdjust="spacingAndGlyphs" text-anchor="middle">3</text>
<text x="813.1" y="501.8" font-size="5.9" fill="#1a1a1a" stroke="#1a1a1a" stroke-width="0.2" textLength="5.4" lengthAdjust="spacingAndGlyphs" text-anchor="middle">3</text>
<text x="846.5" y="501.8" font-size="5.9" fill="#1a1a1a" stroke="#1a1a1a" stroke-width="0.2" textLength="5.4" lengthAdjust="spacingAndGlyphs" text-anchor="middle">2</text>
<text x="880.0" y="501.8" font-size="5.9" fill="#1a1a1a" stroke="#1a1a1a" stroke-width="0.2" textLength="5.4" lengthAdjust="spacingAndGlyphs" text-anchor="middle">2</text>
<path d="M652.5,505.9H663.7" stroke="#E2561B" stroke-width="2"/>
<text x="679.3" y="508.0" font-size="5.9" fill="#1a1a1a" stroke="#1a1a1a" stroke-width="0.2" textLength="10.8" lengthAdjust="spacingAndGlyphs" text-anchor="middle">28</text>
<text x="712.8" y="508.0" font-size="5.9" fill="#1a1a1a" stroke="#1a1a1a" stroke-width="0.2" textLength="10.8" lengthAdjust="spacingAndGlyphs" text-anchor="middle">18</text>
<text x="746.2" y="508.0" font-size="5.9" fill="#1a1a1a" stroke="#1a1a1a" stroke-width="0.2" textLength="10.8" lengthAdjust="spacingAndGlyphs" text-anchor="middle">10</text>
<text x="779.6" y="508.0" font-size="5.9" fill="#1a1a1a" stroke="#1a1a1a" stroke-width="0.2" textLength="5.4" lengthAdjust="spacingAndGlyphs" text-anchor="middle">9</text>
<text x="813.1" y="508.0" font-size="5.9" fill="#1a1a1a" stroke="#1a1a1a" stroke-width="0.2" textLength="5.4" lengthAdjust="spacingAndGlyphs" text-anchor="middle">8</text>
<text x="846.5" y="508.0" font-size="5.9" fill="#1a1a1a" stroke="#1a1a1a" stroke-width="0.2" textLength="5.4" lengthAdjust="spacingAndGlyphs" text-anchor="middle">5</text>
<text x="880.0" y="508.0" font-size="5.9" fill="#1a1a1a" stroke="#1a1a1a" stroke-width="0.2" textLength="5.4" lengthAdjust="spacingAndGlyphs" text-anchor="middle">4</text>
<path d="M669.2,509.9H890.6" stroke="#2e2e2e" stroke-width="1.4"/>
<text x="679.7" y="516.4" font-size="5.8" fill="#5c5c5c" stroke="#5c5c5c" stroke-width="0.15" textLength="5.5" lengthAdjust="spacingAndGlyphs" text-anchor="middle">0</text>
<path d="M680.4,509.9v1.6" stroke="#2e2e2e" stroke-width="0.9"/>
<text x="713.2" y="516.4" font-size="5.8" fill="#5c5c5c" stroke="#5c5c5c" stroke-width="0.15" textLength="5.5" lengthAdjust="spacingAndGlyphs" text-anchor="middle">6</text>
<path d="M713.8,509.9v1.6" stroke="#2e2e2e" stroke-width="0.9"/>
<text x="746.6" y="516.4" font-size="5.8" fill="#5c5c5c" stroke="#5c5c5c" stroke-width="0.15" textLength="10.5" lengthAdjust="spacingAndGlyphs" text-anchor="middle">12</text>
<path d="M747.2,509.9v1.6" stroke="#2e2e2e" stroke-width="0.9"/>
<text x="780.1" y="516.4" font-size="5.8" fill="#5c5c5c" stroke="#5c5c5c" stroke-width="0.15" textLength="10.5" lengthAdjust="spacingAndGlyphs" text-anchor="middle">18</text>
<path d="M780.6,509.9v1.6" stroke="#2e2e2e" stroke-width="0.9"/>
<text x="813.5" y="516.4" font-size="5.8" fill="#5c5c5c" stroke="#5c5c5c" stroke-width="0.15" textLength="10.5" lengthAdjust="spacingAndGlyphs" text-anchor="middle">24</text>
<path d="M814.0,509.9v1.6" stroke="#2e2e2e" stroke-width="0.9"/>
<text x="847.0" y="516.4" font-size="5.8" fill="#5c5c5c" stroke="#5c5c5c" stroke-width="0.15" textLength="10.5" lengthAdjust="spacingAndGlyphs" text-anchor="middle">30</text>
<path d="M847.4,509.9v1.6" stroke="#2e2e2e" stroke-width="0.9"/>
<text x="880.4" y="516.4" font-size="5.8" fill="#5c5c5c" stroke="#5c5c5c" stroke-width="0.15" textLength="10.5" lengthAdjust="spacingAndGlyphs" text-anchor="middle">36</text>
<path d="M880.8,509.9v1.6" stroke="#2e2e2e" stroke-width="0.9"/>
<text x="725.8" y="523.1" font-size="5.8" fill="#1a1a1a" stroke="#1a1a1a" stroke-width="0.12" textLength="108" lengthAdjust="spacingAndGlyphs">Months from ICI initiation</text>
<text x="728" y="375.0" font-size="5.7" fill="#1a1a1a" stroke="#1a1a1a" stroke-width="0.12" textLength="103.2" lengthAdjust="spacingAndGlyphs">OS on ICI Monotherapy</text>
<text x="770" y="393.6" font-size="4.4" fill="#2a2a2a" stroke="#2a2a2a" stroke-width="0.06" textLength="85.8" lengthAdjust="spacingAndGlyphs">Median: 4.4 vs. 10.9 vs. NR</text>
<text transform="translate(642.5,448.3) rotate(-90)" font-size="10" textLength="55.8" lengthAdjust="spacingAndGlyphs" fill="#1a1a1a" stroke="#1a1a1a" stroke-width="0.25">Probability of Survival</text>
<text transform="translate(641.5,507.9) rotate(-90)" font-size="9.8" textLength="15.8" lengthAdjust="spacingAndGlyphs" fill="#1a1a1a" stroke="#1a1a1a" stroke-width="0.25">Strata</text>
<text x="590.6" y="384.3" font-size="12.8" fill="#111" textLength="11" lengthAdjust="spacingAndGlyphs">C</text><circle cx="680.6" cy="383.3" r="2.1" fill="#b4531f"/>
</g>
</svg>
</body></html>
